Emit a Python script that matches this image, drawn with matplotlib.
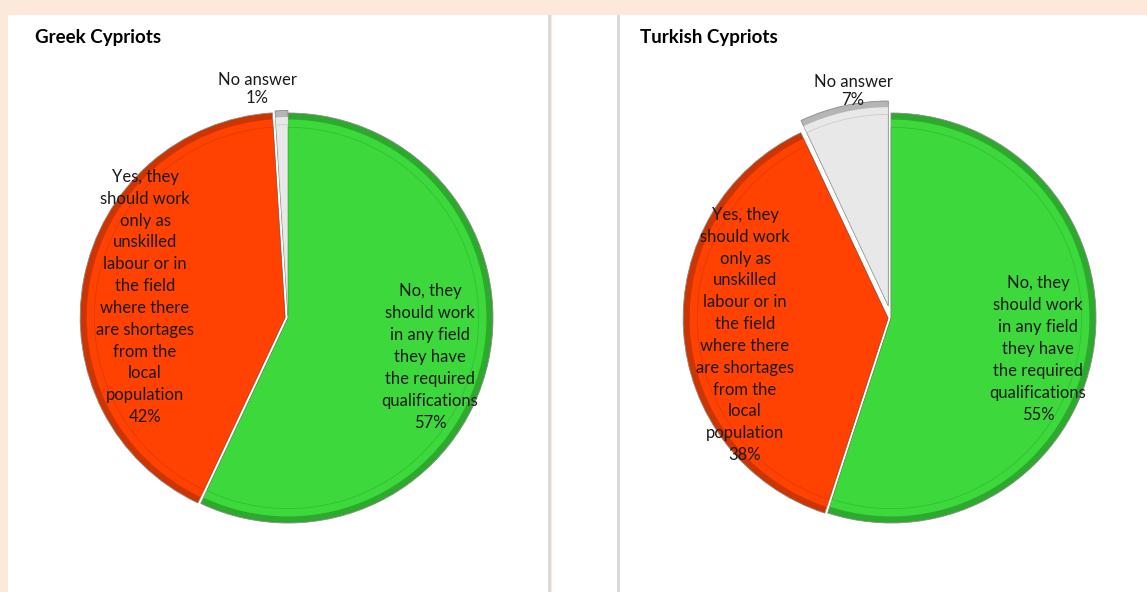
import matplotlib.pyplot as plt
from matplotlib.patches import Rectangle

plt.rcParams['font.family'] = ['Lato', 'DejaVu Sans']

# data
categories = ['No, they\nshould work\nin any field\nthey have\nthe required\nqualifications',
              'Yes, they\nshould work\nonly as\nunskilled\nlabour or in\nthe field\nwhere there\nare shortages\nfrom the\nlocal\npopulation',
              'No answer']
greek_values = [57, 42, 1]
turkish_values = [55, 38, 7]
titles = ['Greek Cypriots', 'Turkish Cypriots']

colors = ['#3CD83C', '#FF4202', '#E8E8E8']
dark_colors = ['#2DAA2D', '#CC3400', '#B5B5B5']

W, H = 1147, 592
fig = plt.figure(figsize=(W / 100, H / 100), dpi=100)
fig.patch.set_facecolor('#FDE9D9')


def px_box(x0, y0, x1, y1):
    return (x0 / W, 1 - y1 / H, (x1 - x0) / W, (y1 - y0) / H)


# white panels
for x0, x1 in [(8, 548), (552, 1147)]:
    fig.patches.append(Rectangle(px_box(x0, 15, x1, 600)[:2], (x1 - x0) / W, (600 - 15) / H,
                                 transform=fig.transFigure, facecolor='white',
                                 edgecolor='none', zorder=-2))
for xs in [548, 617]:
    fig.patches.append(Rectangle((xs / W, 0), 2.5 / W, (H - 15) / H, transform=fig.transFigure,
                                 facecolor='#D9D9D9', edgecolor='none', zorder=-1))


def draw_pie(cx, cy, r, values, explode, label_pos, title_x, title):
    lim = 1.12
    size = 2 * lim * r
    ax = fig.add_axes(px_box(cx - size / 2, cy - size / 2, cx + size / 2, cy + size / 2))
    ax.set_zorder(2)
    # outer bevel
    ax.pie(values, colors=dark_colors, startangle=90, counterclock=False,
           explode=explode, radius=1.0,
           wedgeprops=dict(edgecolor='#8A8A8A', linewidth=0.6))
    inner = 0.968
    ax.pie(values, colors=colors, startangle=90, counterclock=False,
           explode=[e / inner for e in explode], radius=inner,
           wedgeprops=dict(edgecolor='none', linewidth=0))
    # faint inner highlight line
    hl = 0.93
    ax.pie(values, colors=['none'] * 3, startangle=90, counterclock=False,
           explode=[e / hl for e in explode], radius=hl,
           wedgeprops=dict(edgecolor=(0, 0, 0, 0.12), linewidth=0.6, fill=False))
    ax.set_xlim(-lim, lim)
    ax.set_ylim(-lim, lim)
    ax.set_aspect('equal')
    ax.axis('off')
    for i, (lx, ly) in enumerate(label_pos):
        ax.text(lx, ly, f'{categories[i]}\n{values[i]}%', ha='center', va='center',
                fontsize=12, color='#1A1A1A', linespacing=1.45 if i < 2 else 1.15)
    fig.text(title_x / W, 1 - 38 / H, title,
             fontsize=13.5, fontweight='bold', ha='left', va='center')


r = 205
draw_pie(288, 318, r, greek_values, [0, 0.014, 0.012],
         [((430 - 288) / r, (318 - 357) / r), ((145 - 288) / r, (318 - 297) / r),
          ((257 - 288) / r, (318 - 89) / r)], 35, titles[0])
draw_pie(891, 318, r, turkish_values, [0, 0.014, 0.06],
         [((1038 - 891) / r, (318 - 349) / r), ((745 - 891) / r, (318 - 335) / r),
          ((853 - 891) / r, (318 - 91) / r)], 640, titles[1])

fig.savefig('out.png', dpi=100, facecolor=fig.get_facecolor())
